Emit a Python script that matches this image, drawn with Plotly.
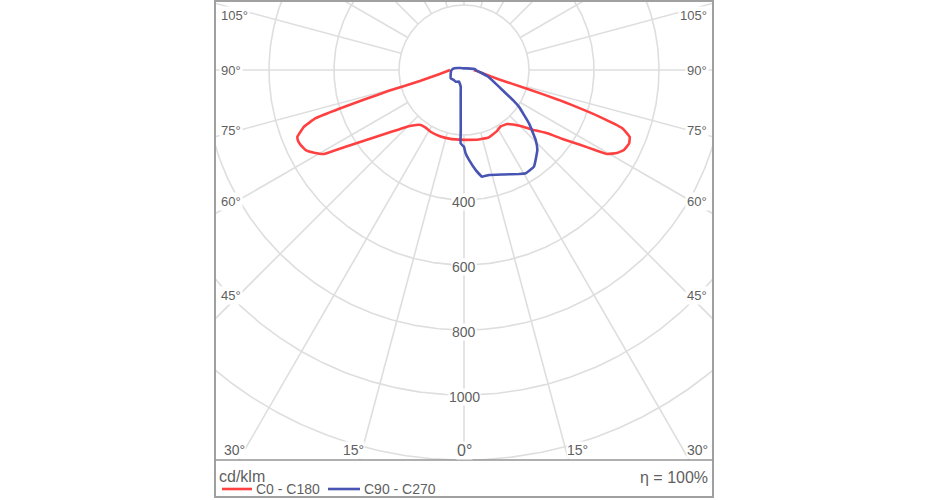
import numpy as np
import plotly.graph_objects as go

# ---------------- data (cd/klm) ----------------
# C0 - C180 plane (red): C180 on the left, C0 on the right
c180_gamma = [0, 10, 20, 28.4, 34, 38.2, 41, 44.5, 47.6, 51.3, 54.7, 57.2, 59, 61.1, 63, 65.3, 67, 68.2, 70.5, 72.0, 72.8, 73.5, 74.5, 76, 80, 85, 90]
c180_vals = [215, 216, 217, 216, 213, 215, 224, 243, 271, 316, 377, 439, 502, 527, 545, 553, 555, 552, 522, 480, 400, 320, 240, 140, 80, 55, 43]
c0_gamma = [0, 10, 20, 28, 33, 38.7, 42, 45.3, 49, 52.8, 55, 57.3, 58.5, 59.6, 61.5, 63.4, 66, 68, 69.8, 71, 72, 72.5, 73.5, 75, 80, 85, 90]
c0_vals = [215, 218, 221, 214, 207, 213, 226, 245, 280, 322, 370, 427, 470, 511, 535, 550, 556, 550, 519, 440, 350, 306, 200, 110, 60, 40, 30]

# C90 - C270 plane (blue): C270 on the left, C90 on the right
c270_gamma = [0, 2.6, 3.1, 4.7, 7.5, 11.3, 23, 35, 45, 58, 76, 85, 90, 100, 120, 150, 180]
c270_vals = [236, 226, 185, 124, 78, 52, 39, 44, 44, 48, 42, 40, 38, 30, 12, 6, 5]
c90_gamma = [0, 1.1, 3.2, 6.7, 9.7, 13.4, 20.9, 27.9, 30.8, 35.9, 42.5, 45.7, 50.6, 56.3, 58.2, 62.4, 67, 75, 82, 90, 95, 120, 150, 180]
c90_vals = [236, 256, 277, 310, 333, 332, 344, 362, 370, 367, 334, 308, 259, 203, 180, 133, 105, 75, 50, 36, 34, 10, 6, 5]

grid_circles = [200, 400, 600, 800, 1000, 1200]
radial_tick_values = [400, 600, 800, 1000]
radial_tick_labels = ["400", "600", "800", "1000"]
spoke_step = 15
side_labels = ["105°", "90°", "75°", "60°", "45°"]
bottom_labels = ["30°", "15°", "0°", "15°", "30°"]
series_names = ["C0 - C180", "C90 - C270"]
unit_label = "cd/klm"
eta_label = "η = 100%"

RED = "rgb(255,64,64)"
BLUE = "rgb(72,84,178)"
GRID = "rgb(222,222,222)"
TXT = "rgb(95,95,95)"
FONT = "Liberation Sans, Arial, sans-serif"


def to_xy(gamma, vals, side):
    g = np.radians(np.asarray(gamma, dtype=float))
    v = np.asarray(vals, dtype=float)
    return side * v * np.sin(g), -v * np.cos(g)


def curve(left_g, left_v, right_g, right_v):
    xl, yl = to_xy(left_g[::-1], left_v[::-1], -1)
    xr, yr = to_xy(right_g, right_v, 1)
    return np.concatenate([xl, xr]), np.concatenate([yl, yr])


fig = go.Figure()

# grid circles
t = np.linspace(0, 2 * np.pi, 721)
for r in grid_circles:
    fig.add_trace(go.Scatter(x=r * np.sin(t), y=r * np.cos(t), mode="lines",
                             line=dict(color=GRID, width=1.6), hoverinfo="skip", showlegend=False))
# spokes (from the 200 circle outward)
for a in range(0, 360, spoke_step):
    ar = np.radians(a)
    rr = np.array([grid_circles[0], 2000])
    fig.add_trace(go.Scatter(x=rr * np.sin(ar), y=-rr * np.cos(ar), mode="lines",
                             line=dict(color=GRID, width=1.6), hoverinfo="skip", showlegend=False))

# curves
xr_, yr_ = curve(c180_gamma, c180_vals, c0_gamma, c0_vals)
fig.add_trace(go.Scatter(x=xr_, y=yr_, mode="lines", line=dict(color=RED, width=2.6, shape="spline", smoothing=0.3),
                         name=series_names[0], showlegend=False))
xb_, yb_ = curve(c270_gamma, c270_vals, c90_gamma, c90_vals)
xb_ = np.append(xb_, xb_[0]); yb_ = np.append(yb_, yb_[0])
fig.add_trace(go.Scatter(x=xb_, y=yb_, mode="lines", line=dict(color=BLUE, width=2.6, shape="spline", smoothing=0.3),
                         name=series_names[1], showlegend=False))

# ---------------- layout ----------------
W, H = 930, 500
ML, MR, MT, MB = 215, 217, 1, 40
PW, PH = W - ML - MR, H - MT - MB
scale = 0.325  # px per cd/klm
cx_px, cy_px = 464 - ML, 70 - MT  # centre inside plot area
xr = [-cx_px / scale, (PW - cx_px) / scale]
yr = [-(PH - cy_px) / scale, cy_px / scale]


def px(xp):
    return (xp - ML) / PW


def py(yp):
    return (MT + PH - yp) / PH


def note(x, y, text, size, xanchor="center", bg=None, xref="paper", yref="paper", pad=1):
    d = dict(x=x, y=y, xref=xref, yref=yref, text=text, showarrow=False,
             xanchor=xanchor, yanchor="middle", font=dict(size=size, color=TXT, family=FONT), borderpad=pad)
    if bg:
        d["bgcolor"] = bg
    return d


annotations = []
for v, lab in zip(radial_tick_values, radial_tick_labels):
    annotations.append(note(0, -(v + 7), lab, 14, bg="white", xref="x", yref="y", pad=0))
side_y = [16, 70, 130, 201, 295]
for lab, yp in zip(side_labels, side_y):
    annotations.append(note(px(219), py(yp), lab, 13, xanchor="left", bg="white"))
    annotations.append(note(px(709), py(yp), lab, 13, xanchor="right", bg="white"))
bottom_x = [234, 353, 464, 577, 697]
for lab, xp in zip(bottom_labels, bottom_x):
    annotations.append(note(px(xp), py(450), lab, 16 if lab == "0°" else 14, bg="white", pad=0))
# legend area
annotations.append(note(px(217), py(476), unit_label, 16, xanchor="left"))
annotations.append(note(px(710), py(477), eta_label, 16, xanchor="right"))
annotations.append(note(px(254), py(489), series_names[0], 14, xanchor="left"))
annotations.append(note(px(362), py(489), series_names[1], 14, xanchor="left"))

shapes = [
    dict(type="rect", xref="paper", yref="paper", x0=0, x1=1, y0=py(497), y1=1,
         line=dict(color="rgb(160,160,160)", width=2), layer="above"),
    dict(type="line", xref="paper", yref="paper", x0=0, x1=1, y0=py(460), y1=py(460),
         line=dict(color="rgb(150,150,150)", width=1.6), layer="above"),
    dict(type="line", xref="paper", yref="paper", x0=px(222), x1=px(252), y0=py(489), y1=py(489),
         line=dict(color=RED, width=2.6)),
    dict(type="line", xref="paper", yref="paper", x0=px(328), x1=px(360), y0=py(489), y1=py(489),
         line=dict(color=BLUE, width=2.6)),
]

fig.update_layout(
    width=W, height=H, margin=dict(l=ML, r=MR, t=MT, b=MB),
    paper_bgcolor="white", plot_bgcolor="white",
    xaxis=dict(range=xr, visible=False, fixedrange=True),
    yaxis=dict(range=yr, visible=False, fixedrange=True),
    annotations=annotations, shapes=shapes, showlegend=False,
)
fig.write_html("out.html", config={"displayModeBar": False},
               post_script="document.body.style.margin='0px';")
